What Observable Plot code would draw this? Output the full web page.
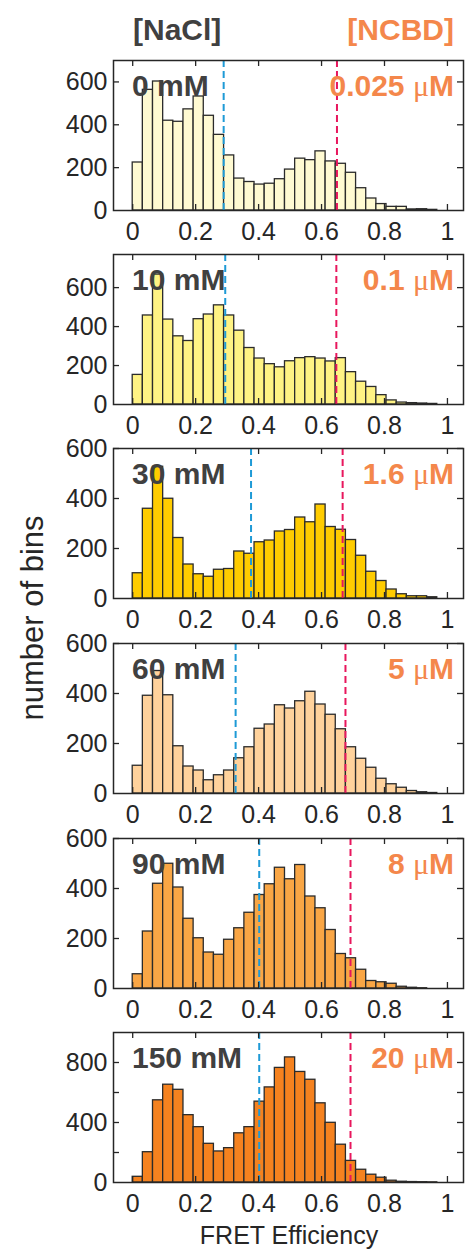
<!DOCTYPE html>
<html><head><meta charset="utf-8">
<script src="https://cdn.jsdelivr.net/npm/d3@7"></script>
<script src="https://cdn.jsdelivr.net/npm/@observablehq/plot@0.6"></script>
<style>
body{margin:0;background:#fff;}
#chart{position:relative;width:467px;height:1251px;font-family:"Liberation Sans",Arial,sans-serif;}
#chart svg{position:absolute;left:0;}
</style></head><body><div id="chart"></div>
<script>
// ---- data ----
const binCount = 31;                 // histogram bins across E = 0..1
const xTicks = [0, 0.2, 0.4, 0.6, 0.8, 1];
const naclLabels = ["0 mM", "10 mM", "30 mM", "60 mM", "90 mM", "150 mM"];
const ncbdLabels = ["0.025", "0.1", "1.6", "5", "8", "20"];
const fills = ["#FFFAD2", "#FFF384", "#FFCC00", "#FFD29C", "#F9A645", "#F5821F"];
const yMax = [700, 770, 600, 600, 600, 1000];
const yTickMarks = [[200,400,600],[200,400,600],[200,400,600],[200,400,600],[200,400,600],[200,400,600,800]];
const yTickLabels = [[0,200,400,600],[0,200,400,600],[0,200,400,600],[0,200,400,600],[0,200,400,600],[0,400,800]];
const blueLine = [0.289, 0.294, 0.376, 0.327, 0.402, 0.402];
const redLine  = [0.649, 0.647, 0.667, 0.676, 0.692, 0.692];
const counts0   = [224,563,602,419,414,472,532,442,353,257,149,133,121,125,146,191,242,235,276,229,218,176,104,56,30,17,17,5,6,3,0];
const counts10  = [152,457,667,436,350,326,438,462,509,457,379,290,236,207,191,222,238,243,236,221,238,166,117,90,48,21,10,7,5,3,0];
const counts30  = [101,359,527,399,242,136,97,87,115,118,188,179,225,232,268,274,324,305,376,286,275,234,171,107,70,36,17,9,9,5,0];
const counts60  = [111,391,490,393,189,108,92,53,73,92,141,185,259,276,353,340,369,407,356,315,257,185,139,103,59,37,23,10,5,2,0];
const counts90  = [57,228,419,499,404,279,201,144,135,195,241,303,374,417,483,437,494,368,321,234,138,121,75,30,25,19,7,3,1,0,0];
const counts150 = [38,202,548,652,618,449,369,258,207,229,328,369,539,634,764,834,737,685,528,398,252,144,85,52,32,12,5,3,2,1,0];
const allCounts = [counts0, counts10, counts30, counts60, counts90, counts150];

// ---- layout ----
const W = 467, mL = 113, mR = 4, mT = 10, mB = 45, PH = 150;
const panelTops = [60, 254, 448, 643, 838, 1032];
const PW = W - mL - mR;
const ink = "#262626", gray = "#404040", orange = "#F4874B";
const chart = document.getElementById("chart");

allCounts.forEach((counts, i) => {
  const data = counts.map((c, j) => ({x1: j / binCount, x2: (j + 1) / binCount, y: c}));
  const svg = Plot.plot({
    width: W, height: mT + PH + mB,
    marginLeft: mL, marginRight: mR, marginTop: mT, marginBottom: mB,
    style: {background: "transparent", color: ink, fontFamily: "Liberation Sans, Arial, sans-serif", fontSize: "25px", overflow: "visible"},
    x: {domain: [-0.061, 1.051], label: null},
    y: {domain: [0, yMax[i]], label: null},
    marks: [
      Plot.rectY(data, {x1: "x1", x2: "x2", y: "y", fill: fills[i], stroke: "#2b2b2b", strokeWidth: 1.3}),
      Plot.ruleX([blueLine[i]], {stroke: "#1E9AD6", strokeWidth: 2, strokeDasharray: "7,4"}),
      Plot.ruleX([redLine[i]], {stroke: "#E8175D", strokeWidth: 2, strokeDasharray: "7,4"}),
      Plot.ruleY(yTickMarks[i], {insetRight: PW - 6, stroke: ink, strokeWidth: 1.3}),
      Plot.ruleY(yTickMarks[i], {insetLeft: PW - 6, stroke: ink, strokeWidth: 1.3}),
      Plot.ruleX(xTicks, {insetTop: PH - 6, stroke: ink, strokeWidth: 1.3}),
      Plot.ruleX(xTicks, {insetBottom: PH - 6, stroke: ink, strokeWidth: 1.3}),
      Plot.frame({stroke: ink, strokeWidth: 1.5}),
      Plot.axisY(yTickLabels[i], {tickSize: 0, tickPadding: 6, fontSize: 25, label: null}),
      Plot.axisX(xTicks, {tickSize: 0, tickPadding: 12, fontSize: 25, label: null, tickFormat: d => String(d)})
    ]
  });
  svg.style.top = (panelTops[i] - mT) + "px";
  const s = d3.select(svg);
  s.append("text").attr("x", 132).attr("y", mT + 36)
    .attr("text-anchor", "start")
    .attr("fill", gray).attr("font-size", 30).attr("font-weight", "bold")
    .attr("font-family", "Liberation Sans, Arial, sans-serif")
    .text(naclLabels[i]);
  const t = s.append("text").attr("x", 454).attr("y", mT + 36)
    .attr("fill", orange).attr("font-size", 30).attr("font-weight", "bold")
    .attr("text-anchor", "end").attr("font-family", "Liberation Sans, Arial, sans-serif");
  t.append("tspan").text(ncbdLabels[i] + " ");
  t.append("tspan").attr("font-family", "Liberation Serif, Times New Roman, serif").attr("font-weight", "normal").text("μ");
  t.append("tspan").text("M");
  chart.appendChild(svg);
});

// overlay text: headers and axis titles
const ov = d3.select(chart).append("svg").attr("width", W).attr("height", 1251)
  .style("top", "0px").style("pointer-events", "none")
  .attr("font-family", "Liberation Sans, Arial, sans-serif");
ov.append("text").attr("x", 133).attr("y", 40).attr("font-size", 30).attr("font-weight", "bold").attr("fill", gray).text("[NaCl]");
ov.append("text").attr("x", 454).attr("y", 40).attr("font-size", 30).attr("font-weight", "bold").attr("fill", orange).attr("text-anchor", "end").text("[NCBD]");
ov.append("text").attr("transform", "translate(43,618) rotate(-90)").attr("text-anchor", "middle").attr("font-size", 31).attr("fill", ink).text("number of bins");
ov.append("text").attr("x", 289).attr("y", 1244).attr("text-anchor", "middle").attr("font-size", 25).attr("fill", ink).text("FRET Efficiency");
</script></body></html>
